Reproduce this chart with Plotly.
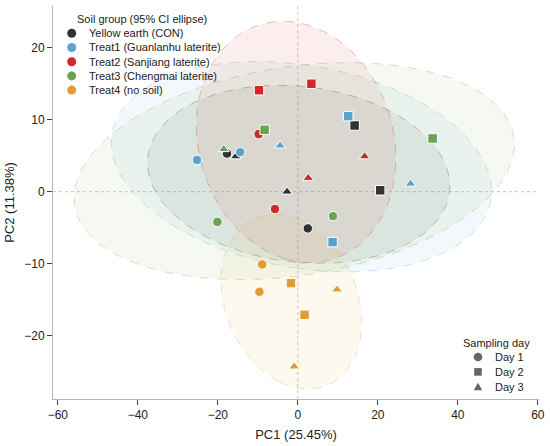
import numpy as np
import plotly.graph_objects as go

# PCA scores (PC1, PC2), per soil group and sampling day
groups = ["Yellow earth (CON)", "Treat1 (Guanlanhu laterite)", "Treat2 (Sanjiang laterite)",
          "Treat3 (Chengmai laterite)", "Treat4 (no soil)"]
colors = ["#333333", "#5BA3CF", "#D1282A", "#6BA353", "#E39C31"]
fill_colors = ["#333333", "#6BB5D6", "#E0463C", "#8CC063", "#EBC04A"]
days = ["Day 1", "Day 2", "Day 3"]
day_symbols = ["circle", "square", "triangle-up"]

con_pc1 = [-17.7, 2.5, 14.2, 20.6, -15.5, -2.7]
con_pc2 = [5.3, -5.1, 9.2, 0.2, 4.9, 0.0]
con_day = [1, 1, 2, 2, 3, 3]

t1_pc1 = [-25.2, -14.4, 12.6, 8.7, -4.4, 28.2]
t1_pc2 = [4.4, 5.5, 10.5, -7.0, 6.4, 1.1]
t1_day = [1, 1, 2, 2, 3, 3]

t2_pc1 = [-9.8, -5.7, -9.7, 3.4, 16.7, 2.6]
t2_pc2 = [8.0, -2.4, 14.1, 15.0, 4.9, 1.9]
t2_day = [1, 1, 2, 2, 3, 3]

t3_pc1 = [8.8, -20.1, -8.3, 33.7, -18.5]
t3_pc2 = [-3.4, -4.2, 8.6, 7.4, 5.9]
t3_day = [1, 1, 2, 2, 3]

t4_pc1 = [-8.9, -9.6, -1.7, 1.7, 9.8, -0.9]
t4_pc2 = [-10.1, -13.9, -12.7, -17.1, -13.6, -24.3]
t4_day = [1, 1, 2, 2, 3, 3]

pc1 = [con_pc1, t1_pc1, t2_pc1, t3_pc1, t4_pc1]
pc2 = [con_pc2, t1_pc2, t2_pc2, t3_pc2, t4_pc2]
day = [con_day, t1_day, t2_day, t3_day, t4_day]

W, H = 550, 446
ML, MR, MT, MB = 53, 11, 6, 47


def rgba(hx, a):
    h = hx.lstrip("#")
    return "rgba(%d,%d,%d,%.2f)" % (int(h[0:2], 16), int(h[2:4], 16), int(h[4:6], 16), a)


def ellipse(x, y, chi2=5.991, n=120):
    # 95% confidence ellipse from sample covariance
    x = np.asarray(x); y = np.asarray(y)
    cov = np.cov(x, y)
    vals, vecs = np.linalg.eigh(cov)
    t = np.linspace(0, 2 * np.pi, n)
    circ = np.vstack([np.cos(t), np.sin(t)]) * np.sqrt(chi2 * vals)[:, None]
    pts = vecs @ circ
    return pts[0] + x.mean(), pts[1] + y.mean()


# pixel -> paper helpers for the hand-made legends
def px(xp):
    return (xp - ML) / (W - ML - MR)


def py(yp):
    return (H - MB - yp) / (H - MT - MB)


fig = go.Figure()

# ellipses
for i, g in enumerate(groups):
    ex, ey = ellipse(pc1[i], pc2[i])
    fig.add_trace(go.Scatter(
        x=ex, y=ey, mode="lines", fill="toself",
        fillcolor=rgba(fill_colors[i], 0.09 if i != 0 else 0.08),
        line=dict(color=rgba(colors[i], 0.30), width=1, dash="dash"),
        hoverinfo="skip", showlegend=False))

# points
for i, g in enumerate(groups):
    fig.add_trace(go.Scatter(
        x=pc1[i], y=pc2[i], mode="markers", name=g, showlegend=False,
        marker=dict(color=colors[i], size=9.5,
                    symbol=[day_symbols[d - 1] for d in day[i]],
                    line=dict(color="white", width=1))))

fig.add_vline(x=0, line=dict(color="#c4c4c4", width=1, dash="dot"), layer="below")
fig.add_hline(y=0, line=dict(color="#c4c4c4", width=1, dash="dot"), layer="below")

annots = []
shapes = []

# legend: soil group
annots.append(dict(x=px(75), y=py(19), text="Soil group (95% CI ellipse)"))
for i, g in enumerate(groups):
    yy = 33.3 + i * 14.2
    annots.append(dict(x=px(86.5), y=py(yy), text=g))
    shapes.append(dict(type="circle", xref="paper", yref="paper",
                       xsizemode="pixel", ysizemode="pixel",
                       xanchor=px(71.7), yanchor=py(yy),
                       x0=-4.5, x1=4.5, y0=-4.5, y1=4.5,
                       fillcolor=colors[i], line=dict(width=0)))

# legend: sampling day
annots.append(dict(x=px(461), y=py(343), text="Sampling day"))
for j, d in enumerate(days):
    yy = 357 + j * 14.9
    annots.append(dict(x=px(493), y=py(yy), text=d))
    common = dict(xref="paper", yref="paper", xsizemode="pixel", ysizemode="pixel",
                  xanchor=px(478), yanchor=py(yy), fillcolor="#666666", line=dict(width=0))
    if day_symbols[j] == "circle":
        shapes.append(dict(type="circle", x0=-4.3, x1=4.3, y0=-4.3, y1=4.3, **common))
    elif day_symbols[j] == "square":
        shapes.append(dict(type="rect", x0=-3.8, x1=3.8, y0=-3.8, y1=3.8, **common))
    else:
        shapes.append(dict(type="path", path="M -4.3 -3.5 L 4.3 -3.5 L 0 4.0 Z", **common))

for a in annots:
    a.update(xref="paper", yref="paper", xanchor="left", yanchor="middle",
             showarrow=False, font=dict(size=11, color="#222222"))

axis_common = dict(showgrid=False, zeroline=False, showline=True, linecolor="#b5b5b5",
                   linewidth=1, ticks="outside", ticklen=5, tickcolor="#444444",
                   tickfont=dict(size=12, color="#222222"))

fig.update_layout(
    width=W, height=H,
    margin=dict(l=ML, r=MR, t=MT, b=MB),
    paper_bgcolor="white", plot_bgcolor="white",
    font=dict(family="Liberation Sans, Arial, sans-serif", color="#222222"),
    showlegend=False,
    xaxis=dict(range=[-61.2, 60.3], tickvals=[-60, -40, -20, 0, 20, 40, 60],
               title=dict(text="PC1 (25.45%)", font=dict(size=13), standoff=8), **axis_common),
    yaxis=dict(range=[-28.8, 25.8], tickvals=[-20, -10, 0, 10, 20],
               title=dict(text="PC2 (11.38%)", font=dict(size=13), standoff=6), **axis_common),
    annotations=annots,
)
for s in shapes:
    fig.add_shape(**s)

fig.write_html("out.html", config={"displayModeBar": False},
               post_script="document.body.style.margin='0';")
